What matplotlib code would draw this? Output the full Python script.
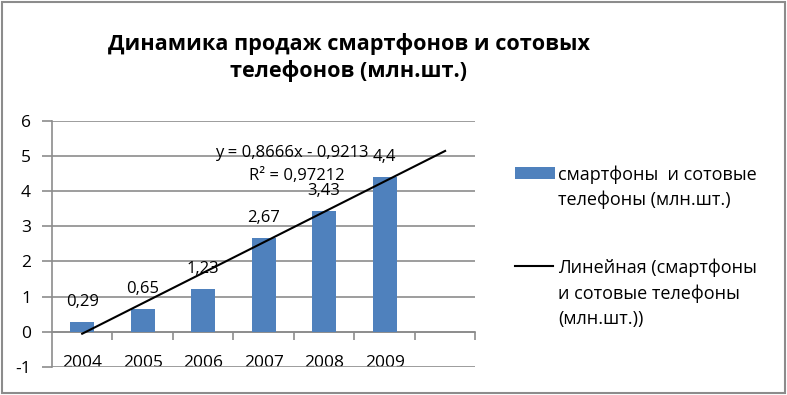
import numpy as np
import matplotlib
matplotlib.use('Agg')
import matplotlib.pyplot as plt
from matplotlib.patches import Rectangle
from matplotlib.lines import Line2D

plt.rcParams['font.family'] = ['Open Sans', 'Noto Sans', 'DejaVu Sans']
plt.rcParams['axes.unicode_minus'] = False

years = ['2004', '2005', '2006', '2007', '2008', '2009']
values = [0.29, 0.65, 1.23, 2.67, 3.43, 4.4]
value_labels = ['0,29', '0,65', '1,23', '2,67', '3,43', '4,4']
bar_label = 'смартфоны  и сотовые\nтелефоны (млн.шт.)'
trend_label = 'Линейная (смартфоны\nи сотовые телефоны\n(млн.шт.))'
title = 'Динамика продаж смартфонов и сотовых\nтелефонов (млн.шт.)'

bar_color = '#4F81BD'
grid_color = '#8C8C8C'

fig = plt.figure(figsize=(7.87, 3.95), dpi=100)
ax = fig.add_axes([0.066, 0.071, 0.538, 0.623])

x = np.arange(1, len(years) + 1)
ax.bar(x, values, width=0.4, color=bar_color, zorder=3)

# линия тренда, продлённая на один период вперёд
k, b = np.polyfit(x, values, 1)
xt = np.array([1, len(years) + 1])
ax.plot(xt, k * xt + b, color='black', lw=1.5, zorder=4)

for xi, v, s in zip(x, values, value_labels):
    ax.annotate(s, (xi, v), xytext=(0, 20), textcoords='offset pixels',
                ha='center', va='center', fontsize=12, zorder=5)

ax.text(4.47, 5.08, 'y = 0,8666x - 0,9213', ha='center', va='center', fontsize=12, zorder=5)
ax.text(4.55, 4.43, 'R² = 0,97212', ha='center', va='center', fontsize=12, zorder=5)

ax.set_xlim(0.5, 7.5)
ax.set_ylim(-1, 6)
ax.set_yticks(range(-1, 7))
ax.yaxis.grid(True, color=grid_color, lw=1.2, zorder=0)
ax.tick_params(axis='y', length=7, color=grid_color, labelsize=12.5, pad=8, width=1.2)

ax.set_xticks(np.arange(1.5, 8, 1))
ax.set_xticklabels([])
ax.set_xticks(x, minor=True)
ax.set_xticklabels(years, minor=True)
ax.tick_params(axis='x', which='major', length=6, color=grid_color, width=1.2)
ax.tick_params(axis='x', which='minor', length=0, labelsize=12.5, pad=17)

for s in ['top', 'right']:
    ax.spines[s].set_visible(False)
ax.spines['bottom'].set_position(('data', 0))
ax.spines['bottom'].set_color(grid_color)
ax.spines['bottom'].set_linewidth(1.2)
ax.spines['left'].set_color(grid_color)
ax.spines['left'].set_linewidth(1.2)

fig.text(0.443, 0.855, title, ha='center', va='center', fontsize=15.6,
         fontweight='bold', linespacing=1.3)

# легенда справа: значок на уровне первой строки подписи
fig.add_artist(Rectangle((0.654, 0.547), 0.051, 0.03, transform=fig.transFigure,
                         facecolor=bar_color, edgecolor='none'))
fig.text(0.709, 0.582, bar_label, ha='left', va='top', fontsize=13, linespacing=1.5)
fig.add_artist(Line2D([0.654, 0.703], [0.327, 0.327], transform=fig.transFigure,
                      color='black', lw=1.5))
fig.text(0.709, 0.346, trend_label, ha='left', va='top', fontsize=13, linespacing=1.5)

fig.add_artist(Rectangle((0.002, 0.004), 0.995, 0.992, transform=fig.transFigure,
                         fill=False, edgecolor='#8C8C8C', lw=1.5))

fig.savefig('out.png', dpi=100)
